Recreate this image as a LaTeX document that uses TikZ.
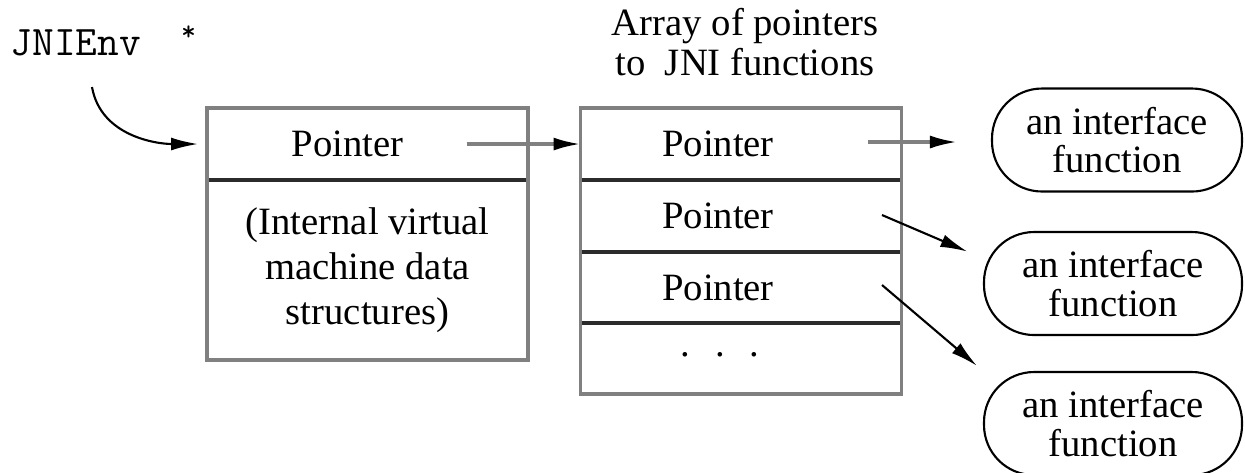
\documentclass[tikz,border=0pt]{standalone}
\usepackage{fontspec}
\setmainfont{Liberation Serif}
\usepackage{tikz}
\usetikzlibrary{arrows.meta,positioning,calc}
\definecolor{jnGray}{HTML}{808080}
\definecolor{jnDark}{HTML}{2B2B2B}
\tikzset{
  cell/.style={minimum width=3.21cm, inner sep=0pt, outer sep=0pt},
  outl/.style={draw=jnGray, line width=0.9pt},
  sepl/.style={draw=jnDark, line width=0.9pt},
  txt/.style={font=\fontsize{11}{12.5}\selectfont, inner sep=0pt, align=center},
  fnbox/.style={draw=black, line width=0.6pt, rounded corners=0.5cm, minimum width=2.58cm, minimum height=1.03cm, inner sep=0pt, align=center, font=\fontsize{11}{11}\selectfont},
  arr/.style={-{Latex[length=0.27cm, width=0.13cm]}, line width=0.6pt, draw=black},
  arrG/.style={arr, line width=0.9pt, draw=jnGray, -{Latex[length=0.27cm, width=0.13cm, color=black]}},
}

\begin{document}
\begin{tikzpicture}
  \useasboundingbox (0,0) rectangle (12.45,-4.72);
  % JNIEnv structure
  \node[cell, minimum height=0.72cm] (envptr) at (3.675,-1.44) {};
  \node[cell, minimum height=1.80cm, below=0pt of envptr] (envdata) {};
  \draw[sepl] (envptr.south west) -- (envptr.south east);
  \draw[outl] (envptr.north west) rectangle (envdata.south east);
  \node[txt, xshift=-0.2cm] (envptrT) at (envptr) {Pointer};
  \node[txt, font=\fontsize{11}{12.8}\selectfont] (envdataT) at (envdata) {(Internal virtual\\machine data\\structures)};
  \node[txt, font=\ttfamily\fontsize{12}{12}\selectfont, anchor=base west] (envlbl) at (0.10,-0.55)
    {JNIEnv\hspace{0.40cm}\raisebox{0.35em}{\fontsize{8}{8}\selectfont *}};
  % function table
  \node[cell, minimum height=0.72cm] (tabA) at (7.41,-1.44) {};
  \node[cell, minimum height=0.72cm, below=0pt of tabA] (tabB) {};
  \node[cell, minimum height=0.71cm, below=0pt of tabB] (tabC) {};
  \node[cell, minimum height=0.71cm, below=0pt of tabC] (tabD) {};
  \foreach \r in {tabA,tabB,tabC} {
    \draw[sepl] (\r.south west) -- (\r.south east);
    \node[txt, xshift=-0.23cm] (txt-\r) at (\r) {Pointer};
  }
  \draw[outl] (tabA.north west) rectangle (tabD.south east);
  \node[txt, xshift=-0.21cm, yshift=0.035cm] (txt-tabD) at (tabD) {.\hspace{7pt}.\hspace{7pt}.};
  \node[txt, font=\fontsize{11}{11.6}\selectfont, above=0.31cm of tabA, xshift=0.04cm] (tabttl) {Array of pointers\\to\ \ JNI functions};
  % interface functions
  \node[fnbox, minimum width=2.50cm] (fnA) at (11.17,-1.40) {an interface\\function};
  \node[fnbox] (fnB) at (11.13,-2.835) {an interface\\function};
  \node[fnbox] (fnC) at (11.13,-4.235) {an interface\\function};
  % pointers
  \coordinate (envtail) at (0.92,-0.87);
  \coordinate (envout) at ([xshift=0.99cm]envptr.center);
  \coordinate (tabAout) at ([xshift=1.27cm, yshift=0.02cm]tabA.center);
  \coordinate (tabBout) at ([xshift=1.41cm, yshift=0.01cm]tabB.center);
  \coordinate (tabCout) at ([xshift=1.41cm, yshift=0.025cm]tabC.center);
  \draw[arr, shorten >=0.09cm] (envtail) to[out=-80, in=180] (envptr.west);
  \draw[arrG] (envout) -- (tabA.west);
  \draw[arrG, shorten >=0.34cm] (tabAout) -- (tabAout -| fnA.west);
  \draw[arr, shorten >=0.17cm] (tabBout) -- (fnB.169);
  \draw[arr, shorten >=0.08cm] (tabCout) -- (fnC.north west);
\end{tikzpicture}
\end{document}
